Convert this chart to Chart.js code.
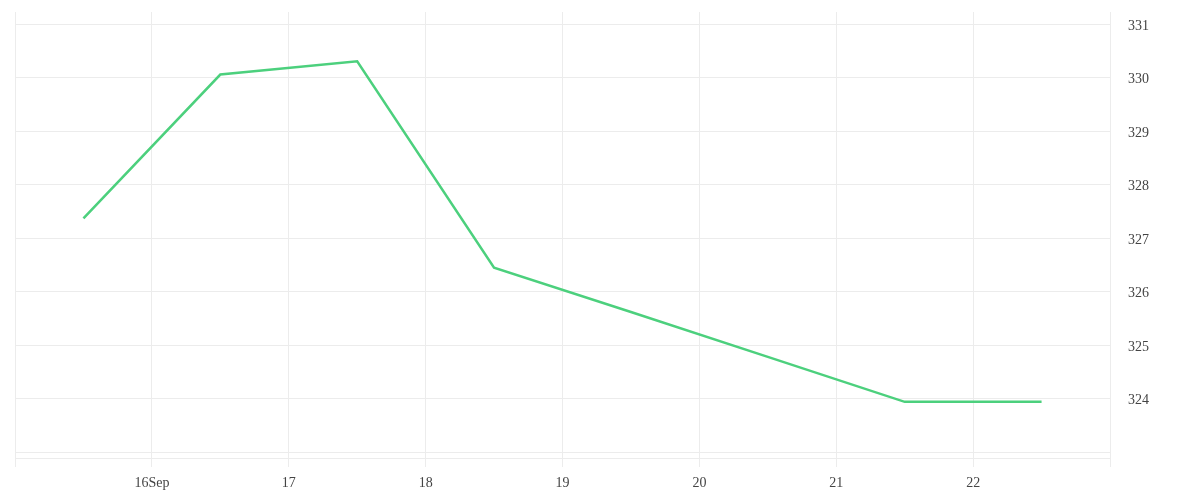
<!DOCTYPE html>
<html>
<head>
<meta charset="utf-8">
<script src="https://cdn.jsdelivr.net/npm/chart.js@4"></script>
<style>
  html, body { margin: 0; padding: 0; background: #fff; }
  #priceChart { display: block; }
</style>
</head>
<body>
<canvas id="priceChart" width="1200" height="500"></canvas>
<script>
// points sit in the middle of each day
const dayPositions = [15.5, 16.5, 17.5, 18.5, 19.5, 20.5, 21.5, 22.5];
const prices = [327.37, 330.06, 330.31, 326.45, 325.62, 324.78, 323.94, 323.94];

const xTickValues = [15, 16, 17, 18, 19, 20, 21, 22, 23];
const xTickLabels = ["", "16Sep", "17", "18", "19", "20", "21", "22", ""];
const yTickValues = [323, 324, 325, 326, 327, 328, 329, 330, 331];
const yTickLabels = ["", "324", "325", "326", "327", "328", "329", "330", "331"];

const gridColor = "#ececec";
const textColor = "#444";
const tickFont = { family: "Liberation Serif", size: 14 };

const points = dayPositions.map((d, i) => ({ x: d, y: prices[i] }));

// keep tick labels from pushing the plot area in
function noLabelPadding(axis) {
    axis.paddingTop = 0;
    axis.paddingBottom = 0;
    axis.paddingLeft = 0;
    axis.paddingRight = 0;
}

new Chart(document.getElementById("priceChart").getContext("2d"), {
    type: "line",
    data: {
        datasets: [{
            data: points,
            borderColor: "#4cd07d",
            borderWidth: 2.5,
            pointRadius: 0,
            fill: false,
            tension: 0
        }]
    },
    options: {
        responsive: false,
        animation: false,
        layout: { padding: { left: 15, top: 12, right: 0, bottom: 0 } },
        plugins: {
            legend: { display: false },
            tooltip: { enabled: false }
        },
        scales: {
            x: {
                type: "linear",
                min: 15,
                max: 23,
                afterBuildTicks: axis => {
                    axis.ticks = xTickValues.map(v => ({ value: v }));
                },
                afterFit: axis => { axis.height = 42; noLabelPadding(axis); },
                grid: { color: gridColor, tickLength: 9, tickColor: gridColor },
                border: { color: gridColor },
                ticks: {
                    color: textColor,
                    font: tickFont,
                    padding: 8,
                    maxRotation: 0,
                    autoSkip: false,
                    callback: v => xTickLabels[xTickValues.indexOf(v)]
                }
            },
            y: {
                position: "right",
                min: 322.89,
                max: 331.23,
                afterBuildTicks: axis => {
                    axis.ticks = yTickValues.map(v => ({ value: v }));
                },
                afterFit: axis => { axis.width = 90; noLabelPadding(axis); },
                grid: { color: gridColor, drawTicks: false },
                border: { color: gridColor },
                ticks: {
                    color: textColor,
                    font: tickFont,
                    padding: 18,
                    labelOffset: 2,
                    callback: v => yTickLabels[yTickValues.indexOf(v)]
                }
            }
        }
    }
});
</script>
</body>
</html>
